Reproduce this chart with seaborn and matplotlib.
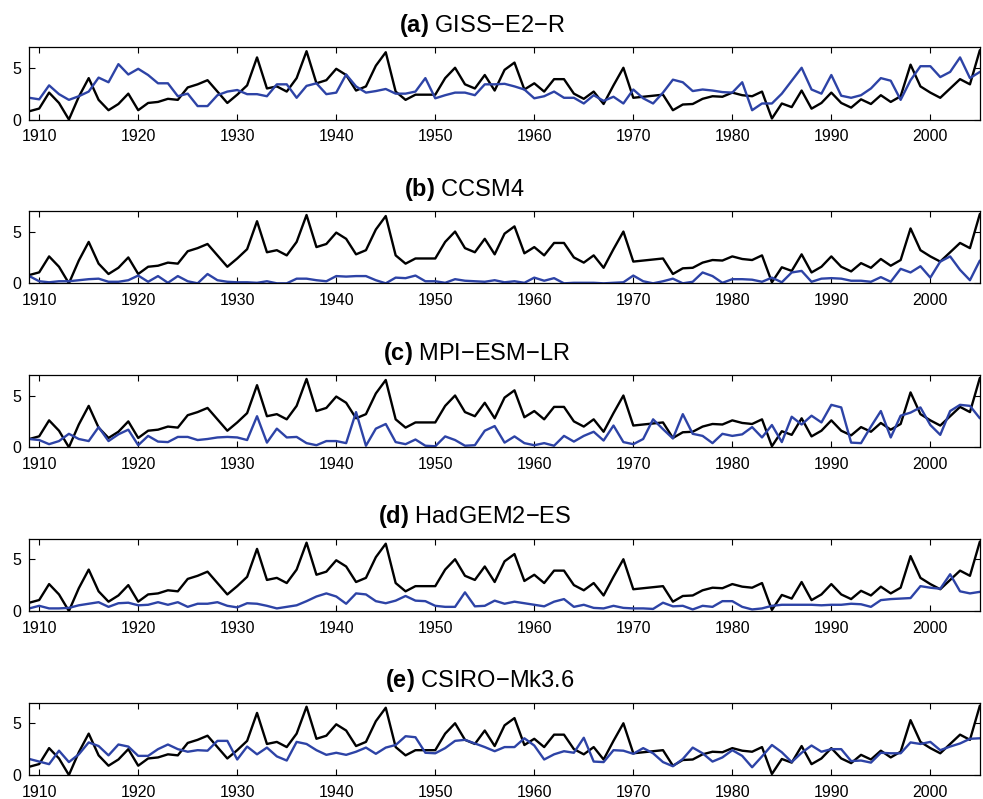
import numpy as np
import pandas as pd
import matplotlib
matplotlib.use("Agg")
import matplotlib.pyplot as plt
import seaborn as sns

years = list(range(1909, 2006))

# observed series (black), same in every panel
obs = [0.8, 1.06, 2.6, 1.6, 0.0, 2.2, 4.0, 1.9, 0.9, 1.5,
       2.5, 0.9, 1.6, 1.7, 2.0, 1.9, 3.1, 3.4, 3.8, 2.7,
       1.6, 2.4, 3.3, 6.0, 3.0, 3.2, 2.7, 4.0, 6.6, 3.5,
       3.8, 4.9, 4.3, 2.8, 3.2, 5.2, 6.5, 2.7, 1.9, 2.4,
       2.4, 2.4, 4.0, 5.0, 3.4, 3.0, 4.3, 2.8, 4.8, 5.5,
       2.9, 3.5, 2.7, 3.9, 3.9, 2.5, 2.0, 2.7, 1.5, 3.3,
       5.0, 2.1, 2.2, 2.3, 2.4, 0.9, 1.45, 1.5, 2.0, 2.25,
       2.2, 2.6, 2.35, 2.25, 2.7, 0.1, 1.55, 1.2, 2.8, 1.05,
       1.6, 2.6, 1.6, 1.15, 1.95, 1.5, 2.35, 1.7, 2.25, 5.3,
       3.2, 2.6, 2.1, 3.0, 3.9, 3.4, 6.7]

giss = [2.1, 1.95, 3.3, 2.45, 1.9, 2.25, 2.7, 4.05, 3.6, 5.35,
        4.35, 4.9, 4.3, 3.5, 3.5, 2.25, 2.5, 1.3, 1.3, 2.35,
        2.7, 2.85, 2.45, 2.45, 2.25, 3.4, 3.4, 2.1, 3.25, 3.5,
        2.45, 2.6, 4.35, 3.2, 2.6, 2.75, 2.95, 2.5, 2.5, 2.7,
        4.0, 2.05, 2.35, 2.6, 2.6, 2.35, 3.4, 3.4, 3.45, 3.2,
        2.9, 2.05, 2.25, 2.7, 2.1, 2.1, 1.55, 2.35, 1.8, 2.2,
        1.55, 2.9, 2.05, 1.55, 2.6, 3.85, 3.6, 2.75, 2.9, 2.8,
        2.65, 2.6, 3.6, 0.9, 1.55, 1.55, 2.5, 3.75, 5.0, 2.9,
        2.5, 4.3, 2.3, 2.1, 2.35, 3.0, 4.0, 3.75, 1.9, 3.8,
        5.15, 5.15, 4.1, 4.6, 6.0, 4.0, 4.6]

ccsm = [0.7, 0.2, 0.1, 0.2, 0.2, 0.3, 0.4, 0.45, 0.15, 0.15,
        0.3, 0.75, 0.15, 0.7, 0.05, 0.7, 0.2, 0.0, 0.9, 0.3,
        0.15, 0.1, 0.1, 0.05, 0.2, 0.0, 0.0, 0.45, 0.45, 0.3,
        0.2, 0.7, 0.65, 0.7, 0.7, 0.3, 0.0, 0.55, 0.5, 0.75,
        0.2, 0.2, 0.05, 0.4, 0.25, 0.2, 0.15, 0.3, 0.1, 0.2,
        0.05, 0.55, 0.25, 0.5, 0.0, 0.05, 0.05, 0.05, 0.0, 0.05,
        0.1, 0.75, 0.2, 0.0, 0.2, 0.45, 0.0, 0.15, 1.05, 0.7,
        0.05, 0.4, 0.4, 0.35, 0.15, 0.55, 0.1, 1.05, 1.2, 0.15,
        0.45, 0.5, 0.45, 0.25, 0.25, 0.15, 0.6, 0.15, 1.4, 1.05,
        1.65, 0.55, 2.1, 2.6, 1.3, 0.3, 2.2]

mpi = [0.8, 0.7, 0.3, 0.6, 1.3, 0.8, 0.6, 1.95, 0.6, 1.25,
       1.7, 0.2, 1.1, 0.55, 0.5, 1.0, 1.0, 0.7, 0.8, 0.95,
       1.0, 0.95, 0.7, 3.0, 0.45, 1.8, 0.95, 1.0, 0.4, 0.2,
       0.6, 0.6, 0.4, 3.4, 0.15, 1.8, 2.25, 0.5, 0.3, 0.75,
       0.15, 0.1, 1.05, 0.7, 0.15, 0.2, 1.6, 2.05, 0.45, 1.05,
       0.4, 0.2, 0.4, 0.15, 1.1, 0.55, 1.1, 1.5, 0.65, 2.1,
       0.5, 0.3, 0.8, 2.7, 1.75, 0.85, 3.2, 1.3, 1.1, 0.4,
       1.3, 1.1, 1.25, 1.95, 0.95, 2.15, 0.5, 2.95, 2.2, 3.05,
       2.4, 4.1, 3.85, 0.45, 0.4, 2.0, 3.5, 0.95, 3.05, 3.35,
       3.85, 2.15, 1.2, 3.5, 4.1, 4.0, 2.8]

hadgem = [0.25, 0.5, 0.25, 0.25, 0.3, 0.55, 0.7, 0.85, 0.4, 0.75,
          0.8, 0.55, 0.6, 0.85, 0.6, 0.85, 0.4, 0.7, 0.7, 0.85,
          0.5, 0.35, 0.75, 0.7, 0.5, 0.25, 0.4, 0.55, 0.95, 1.4,
          1.7, 1.4, 0.7, 1.7, 1.6, 0.95, 0.75, 1.0, 1.45, 1.0,
          0.95, 0.5, 0.4, 0.4, 1.8, 0.45, 0.5, 1.0, 0.7, 0.9,
          0.75, 0.6, 0.45, 0.9, 1.15, 0.4, 0.6, 0.3, 0.25, 0.5,
          0.3, 0.25, 0.25, 0.2, 0.8, 0.45, 0.5, 0.15, 0.5, 0.4,
          0.95, 0.95, 0.4, 0.15, 0.25, 0.5, 0.6, 0.6, 0.6, 0.6,
          0.55, 0.6, 0.6, 0.7, 0.65, 0.4, 1.05, 1.15, 1.2, 1.25,
          2.4, 2.25, 2.15, 3.55, 1.9, 1.7, 1.85]

csiro = [1.55, 1.3, 1.05, 2.35, 1.25, 2.0, 3.15, 2.8, 1.9, 2.95,
         2.75, 1.85, 1.85, 2.5, 2.95, 2.5, 2.25, 2.4, 2.35, 3.3,
         3.3, 1.5, 2.75, 2.0, 2.65, 1.8, 1.4, 3.2, 3.0, 2.4,
         1.95, 2.15, 1.95, 2.25, 2.65, 2.05, 2.65, 2.9, 3.75, 3.65,
         2.15, 2.1, 2.6, 3.3, 3.4, 3.05, 2.7, 2.3, 2.7, 2.7,
         3.55, 2.85, 1.5, 2.0, 2.3, 2.15, 3.6, 1.3, 1.25, 2.4,
         2.35, 2.05, 2.6, 2.1, 1.25, 0.85, 1.55, 2.65, 2.1, 1.3,
         1.7, 2.4, 1.85, 0.75, 1.8, 2.9, 2.2, 1.25, 2.15, 2.85,
         2.25, 2.5, 2.5, 1.35, 1.4, 1.2, 2.15, 2.1, 2.1, 3.15,
         3.0, 3.2, 2.4, 2.75, 3.05, 3.5, 3.55]

tags = ["(a)", "(b)", "(c)", "(d)", "(e)"]
names = ["GISS\u2212E2\u2212R", "CCSM4", "MPI\u2212ESM\u2212LR", "HadGEM2\u2212ES", "CSIRO\u2212Mk3.6"]
models = [giss, ccsm, mpi, hadgem, csiro]

xticks = list(range(1910, 2001, 10))
yticks = [0, 5]

sns.set_style("ticks")
plt.rcParams["font.family"] = ["Liberation Sans", "DejaVu Sans"]
plt.rcParams["mathtext.fontset"] = "custom"
plt.rcParams["mathtext.bf"] = "Liberation Sans:bold"
plt.rcParams["mathtext.rm"] = "Liberation Sans"

fig = plt.figure(figsize=(9.83, 7.99), dpi=100)

bottoms = [0.8504, 0.6454, 0.4402, 0.2353, 0.0300]
title_x = [0.476, 0.458, 0.471, 0.468, 0.474]
blue = "#2d43a6"

for i in range(5):
    ax = fig.add_axes([0.0298, bottoms[i], 0.967, 0.0907])
    df = pd.DataFrame({"year": years, "obs": obs, "model": models[i]})
    sns.lineplot(data=df, x="year", y="obs", color="black", linewidth=1.7, ax=ax, estimator=None)
    sns.lineplot(data=df, x="year", y="model", color=blue, linewidth=1.7, ax=ax, estimator=None)
    ax.set_xlim(1909, 2005)
    ax.set_ylim(0, 7)
    ax.set_xticks(xticks)
    ax.set_yticks(yticks)
    ax.set_xlabel("")
    ax.set_ylabel("")
    ax.tick_params(direction="in", top=True, right=True, length=4.5, width=0.8,
                   labelsize=11.5, pad=6, colors="black")
    ax.tick_params(axis="x", pad=7)
    for s in ax.spines.values():
        s.set_visible(True)
        s.set_linewidth(0.9)
        s.set_color("black")
    title = r"$\mathbf{" + tags[i] + r"}$" + " " + names[i]
    ax.set_title(title, fontsize=17, pad=11, color="black", x=title_x[i])

fig.savefig("out.png", dpi=100)
